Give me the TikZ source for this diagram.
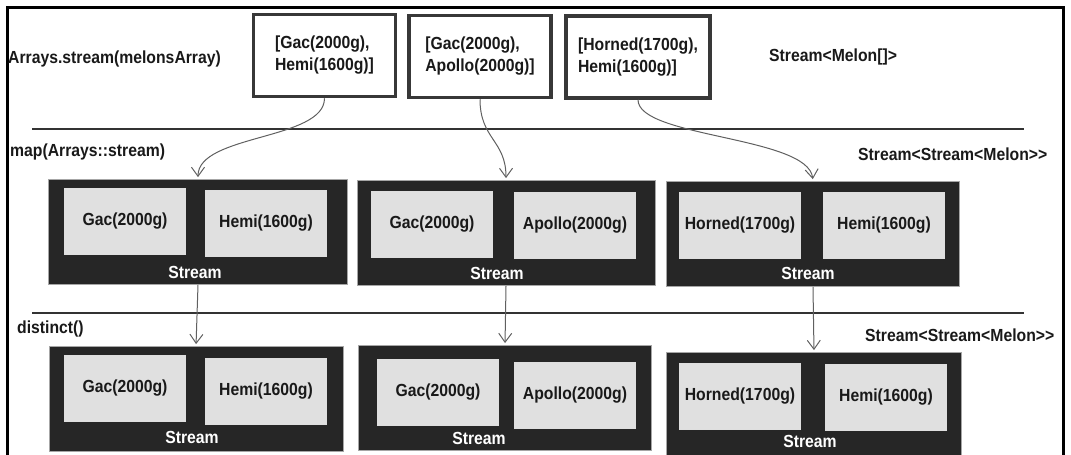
\documentclass[tikz,border=0pt]{standalone}
\usepackage{fontspec}
\setmainfont{Liberation Sans}[FakeStretch=0.9]
\usepackage{xcolor}
\usetikzlibrary{arrows.meta, positioning, calc}
\definecolor{inkdark}{HTML}{262626}
\definecolor{cellgray}{HTML}{E0E0E0}
\definecolor{edgegray}{HTML}{383838}
\newcommand{\melonfont}{\bfseries\fontsize{17.5}{22}\selectfont}
\tikzset{
  arraybox/.style={rectangle, draw=edgegray, line width=3.5pt, fill=white,
                   minimum width=142pt, minimum height=82pt, inner sep=0pt,
                   align=left, font=\melonfont, text=black!90},
  streambox/.style={rectangle, fill=inkdark, draw=gray!70, line width=0.8pt,
                    minimum width=296pt, minimum height=105pt, inner sep=0pt},
  melon/.style={rectangle, fill=cellgray, draw=gray!25, line width=0.8pt,
                minimum width=121pt, minimum height=66pt, inner sep=0pt,
                font=\melonfont, text=black!90},
  streamtag/.style={inner sep=0pt, font=\melonfont, text=white},
  oplabel/.style={anchor=west, inner sep=0pt, font=\melonfont, text=black!90},
  flow/.style={-{Straight Barb[length=9pt, width=13pt]}, draw=gray!75!black,
               line width=1pt, shorten >=2pt},
  divider/.style={draw=black!80, line width=1.6pt},
  frame/.style={draw=black, line width=3pt},
}

\begin{document}
\begin{tikzpicture}[x=1pt, y=-1pt]
  \useasboundingbox (0,0) rectangle (1071,455);
  \draw[frame] (7,470) |- (1063,7) -- (1063,470);

  % source arrays
  \node[oplabel] (lsrc) at (8,59) {Arrays.stream(melonsArray)};
  \node[oplabel] (tsrc) at (769,57) {Stream<Melon[]>};
  \node[arraybox] (arr1) at (324.5,55.5) {[Gac(2000g),\\Hemi(1600g)]};
  \node[arraybox] (arr2) at (480,56.5) {[Gac(2000g),\\Apollo(2000g)]};
  \node[arraybox, minimum width=144pt] (arr3) at (638,57) {[Horned(1700g),\\Hemi(1600g)]};

  \draw[divider] (32,129) -- (1024,129);

  % map(Arrays::stream)
  \node[oplabel] (lmap) at (10,152) {map(Arrays::stream)};
  \node[oplabel] (tmap) at (858,154) {Stream<Stream<Melon>\kern0pt>};

  \node[streambox, minimum width=299pt] (s1) at (198,232) {};
  \node[melon] (s1a) at (125,221) {Gac(2000g)};
  \node[melon] (s1b) at (266,223) {Hemi(1600g)};
  \node[streamtag] (s1t) at (195,272) {Stream};

  \node[streambox, minimum width=298pt] (s2) at (506,233) {};
  \node[melon] (s2a) at (432,224) {Gac(2000g)};
  \node[melon] (s2b) at (575,225) {Apollo(2000g)};
  \node[streamtag] (s2t) at (497,273) {Stream};

  \node[streambox, minimum width=293pt] (s3) at (813,234) {};
  \node[melon] (s3a) at (740,225) {Horned(1700g)};
  \node[melon] (s3b) at (884,225) {Hemi(1600g)};
  \node[streamtag] (s3t) at (808,273) {Stream};

  \draw[divider] (32,313) -- (1024,313);

  % distinct()
  \node[oplabel] (ldis) at (17,329) {distinct()};
  \node[oplabel] (tdis) at (865,335) {Stream<Stream<Melon>\kern0pt>};

  \node[streambox, minimum width=294pt] (d1) at (196,399) {};
  \node[melon] (d1a) at (125,388) {Gac(2000g)};
  \node[melon] (d1b) at (266,391) {Hemi(1600g)};
  \node[streamtag] (d1t) at (192,437) {Stream};

  \node[streambox, minimum width=293pt] (d2) at (505,398) {};
  \node[melon] (d2a) at (438,392) {Gac(2000g)};
  \node[melon] (d2b) at (575,395) {Apollo(2000g)};
  \node[streamtag] (d2t) at (479,438) {Stream};

  \node[streambox, minimum width=295pt] (d3) at (814,405) {};
  \node[melon] (d3a) at (740,396) {Horned(1700g)};
  \node[melon] (d3b) at (886,397) {Hemi(1600g)};
  \node[streamtag] (d3t) at (810,441) {Stream};

  \draw[flow] (arr1.south) .. controls +(0,42) and +(0,-45) .. (s1.north);
  \draw[flow] (arr2.south) .. controls +(0,40) and +(0,-40) .. (s2.north);
  \draw[flow] (arr3.south) .. controls +(0,38) and +(-5,-45) .. (s3.north);
  \draw[flow] (s1.south) -- (d1.north);
  \draw[flow] (s2.south) -- (d2.north);
  \draw[flow] (s3.south) -- (d3.north);
\end{tikzpicture}
\end{document}
